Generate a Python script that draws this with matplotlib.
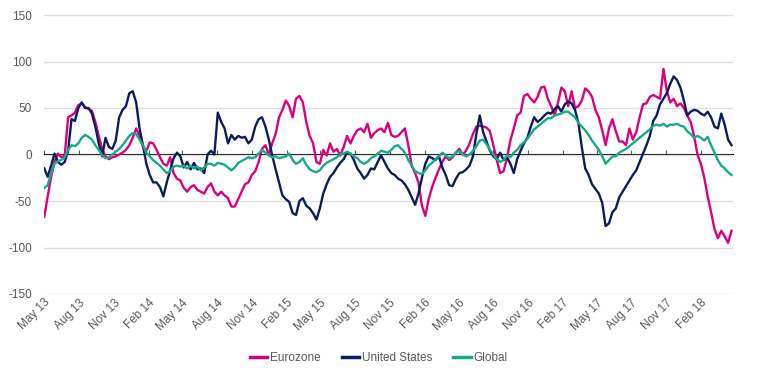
import matplotlib
matplotlib.use("Agg")
import matplotlib.pyplot as plt
import matplotlib.ticker as mticker
import matplotlib.transforms as mtransforms
import pandas as pd

plt.rcParams['font.family'] = ['Liberation Sans', 'DejaVu Sans']

# ---------------- data ----------------
dates = pd.date_range('2013-05-01', periods=203, freq='9D')

eurozone = [
    -67, -45, -24, -8, 1, -3, -1, 40, 42, 45,
    53, 55, 51, 49, 47, 35, 20, 6, -2, -5,
    -3, -2, 0, 2, 5, 10, 18, 28, 20, 8,
    4, 13, 12, 5, -3, -10, -12, -3, -20, -26,
    -28, -36, -40, -35, -33, -38, -40, -42, -35, -31,
    -40, -44, -40, -44, -47, -56, -56, -48, -40, -32,
    -30, -22, -18, -8, 6, 10, 0, 12, 22, 40,
    48, 58, 52, 40, 60, 63, 56, 35, 20, 12,
    -8, -10, 5, -1, 12, 3, 6, -1, 8, 20,
    12, 20, 26, 28, 24, 33, 18, 23, 26, 28,
    24, 34, 21, 19, 20, 24, 28, 10, -12, -20,
    -30, -55, -66, -48, -35, -25, -16, -8, -2, -6,
    -3, 2, 6, 0, 4, 12, 22, 30, 31, 30,
    29, 25, 10, -6, -20, -18, -4, 15, 28, 42,
    45, 63, 65, 60, 56, 62, 72, 73, 60, 52,
    42, 56, 72, 68, 52, 68, 50, 52, 58, 71,
    68, 62, 48, 40, 26, 10, 28, 38, 25, 14,
    14, 10, 28, 16, 24, 40, 54, 55, 62, 64,
    62, 60, 92, 68, 56, 60, 52, 55, 50, 42,
    35, 20, 0, -10, -25, -45, -62, -80, -90, -82,
    -88, -95, -82,
]

united_states = [
    -15, -24, -12, 1, -8, -11, -8, 4, 38, 36,
    50, 56, 50, 50, 44, 30, 12, -2, 18, 8,
    6, 15, 40, 48, 52, 66, 68, 56, 28, 10,
    -10, -22, -30, -30, -35, -45, -30, -17, -4, 2,
    -2, -14, -8, -16, -9, -16, -15, -20, 0, 4,
    0, 45, 35, 28, 12, 21, 16, 20, 18, 19,
    12, 16, 30, 38, 40, 30, 16, -1, -16, -30,
    -44, -48, -51, -63, -65, -50, -47, -55, -58, -63,
    -70, -58, -42, -32, -24, -20, -14, -9, -5, 2,
    1, -6, -15, -20, -26, -22, -15, -16, -8, -1,
    -8, -15, -20, -22, -26, -28, -32, -38, -46, -54,
    -42, -25, -10, -2, -4, -6, -2, -14, -22, -33,
    -34, -26, -20, -19, -16, -12, -2, 22, 42, 24,
    14, 4, -2, -5, 2, -6, -3, -10, -20, -5,
    4, 12, 18, 30, 40, 35, 38, 42, 45, 44,
    49, 52, 46, 54, 57, 55, 48, 34, 8, -15,
    -22, -32, -37, -42, -52, -77, -74, -62, -58, -46,
    -40, -34, -28, -22, -17, -8, 1, 10, 20, 36,
    42, 54, 60, 66, 76, 84, 80, 72, 58, 42,
    46, 48, 47, 44, 42, 46, 40, 30, 28, 44,
    32, 16, 10,
]

global_ = [
    -36, -33, -20, -10, -7, -6, -3, 5, 10, 9,
    12, 18, 21, 19, 16, 10, 5, -1, -4, -3,
    0, 3, 6, 10, 15, 20, 23, 22, 16, 10,
    2, -2, -6, -9, -12, -16, -20, -18, -13, -12,
    -13, -12, -15, -12, -15, -13, -17, -14, -10, -10,
    -12, -9, -10, -11, -14, -17, -14, -9, -7, -5,
    -3, -4, -3, 1, 5, 2, -1, -3, -2, -4,
    -3, -2, 1, -6, -10, -8, -4, -11, -16, -18,
    -19, -17, -12, -9, -7, -5, -3, 0, 1, 3,
    1, -2, -4, -8, -10, -8, -4, -2, 1, 4,
    3, 2, 5, 9, 10, 6, 2, -6, -12, -18,
    -20, -21, -17, -12, -9, -5, -2, 2, -1, -4,
    -2, 2, 4, 0, -2, 0, 4, 9, 15, 16,
    11, 5, 0, -5, -8, -6, -1, -3, 2, 5,
    10, 13, 17, 22, 27, 30, 33, 36, 39, 39,
    42, 43, 44, 46, 46, 43, 40, 34, 30, 26,
    21, 15, 10, 5, -2, -10, -6, -2, -2, 2,
    4, 6, 9, 12, 15, 18, 21, 24, 27, 31,
    32, 31, 33, 30, 32, 32, 33, 31, 30, 25,
    22, 18, 20, 18, 15, 19, 10, 2, -6, -12,
    -15, -19, -22,
]

series_names = ['Eurozone', 'United States', 'Global']
colors = ['#D9017F', '#0C1D5C', '#17A98A']
y_ticks = [-150, -100, -50, 0, 50, 100, 150]
tick_dates = pd.date_range('2013-05-01', '2018-02-01', freq='3MS')
tick_labels = [d.strftime('%b %y') for d in tick_dates]

# ---------------- figure ----------------
W, H = 757, 378
fig = plt.figure(figsize=(W / 100, H / 100), dpi=100)
left, right, top, bottom = 44.3, 733.0, 15.0, 294.0
ax = fig.add_axes([left / W, 1 - bottom / H, (right - left) / W, (bottom - top) / H])

text_color = '#595959'

for vals, name, c, z in zip([eurozone, united_states, global_], series_names, colors, [3, 4, 5]):
    ax.plot(dates, vals, color=c, lw=1.7, label=name, zorder=z, solid_joinstyle='round')

ax.set_ylim(-150, 150)
x0 = pd.Timestamp('2013-05-01')
ax.set_xlim(x0, x0 + pd.Timedelta(days=1822))

ax.set_yticks(y_ticks)
ax.set_yticklabels([str(v) for v in y_ticks])
ax.yaxis.grid(True, color='#dedede', lw=1.0)
ax.set_axisbelow(True)
ax.tick_params(axis='y', length=0, pad=9, labelsize=8.5, labelcolor=text_color)

ax.set_xticks(tick_dates)
ax.set_xticklabels(tick_labels)
ax.tick_params(axis='x', length=0, pad=5, labelsize=8.5, labelcolor=text_color)
offset = mtransforms.ScaledTranslation(3 / 72, 0, fig.dpi_scale_trans)
for lbl in ax.get_xticklabels():
    lbl.set_rotation(45)
    lbl.set_ha('right')
    lbl.set_va('center')
    lbl.set_rotation_mode('anchor')
    lbl.set_transform(lbl.get_transform() + offset)

for s in ax.spines.values():
    s.set_visible(False)

# zero axis line with tick marks
sec = ax.secondary_xaxis(0.5)
sec.set_xticks(tick_dates)
sec.xaxis.set_major_formatter(mticker.NullFormatter())
sec.xaxis.set_minor_locator(mticker.NullLocator())
sec.tick_params(axis='x', which='both', length=3, width=0.8, color='#595959', direction='out')
sec.spines['bottom'].set_color('#595959')
sec.spines['bottom'].set_linewidth(1.0)

leg = fig.legend(loc='center', bbox_to_anchor=(0.5, 1 - 358 / H), ncol=3, frameon=False,
                 fontsize=8.5, handlelength=1.5, handletextpad=0.2, columnspacing=1.8,
                 labelcolor=text_color)
for h in leg.legend_handles:
    h.set_linewidth(2.5)

fig.savefig('out.png', dpi=100)
